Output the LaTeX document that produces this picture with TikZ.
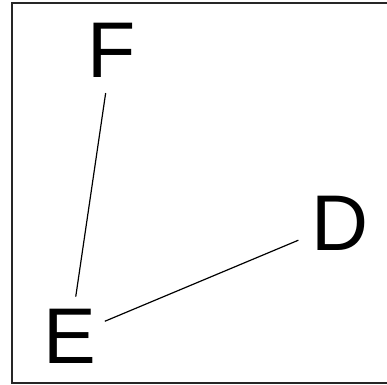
\documentclass[tikz,border=0pt]{standalone}
\usepackage{fontspec}
\setmainfont{Liberation Sans}
\begin{document}
\begin{tikzpicture}[x=1bp,y=-1bp,
  lbl/.style={inner sep=0pt,anchor=base,font=\fontsize{79bp}{90bp}\selectfont},
  edge/.style={line width=1.2pt,black}]
\useasboundingbox (0,0) rectangle (387,385);
\fill[white] (0,0) rectangle (387,385);
\draw[line width=2pt,black!85] (12,3) rectangle (395,383);
\node[lbl] (F) at (112,77) {F};
\node[lbl] (E) at (70,363) {E};
\node[lbl] (D) at (340,250) {D};
\draw[edge,shorten <=16bp,shorten >=12bp] (F) -- (E);
\draw[edge,shorten <=9bp,shorten >=14bp] (E) -- (D);
\end{tikzpicture}
\end{document}
